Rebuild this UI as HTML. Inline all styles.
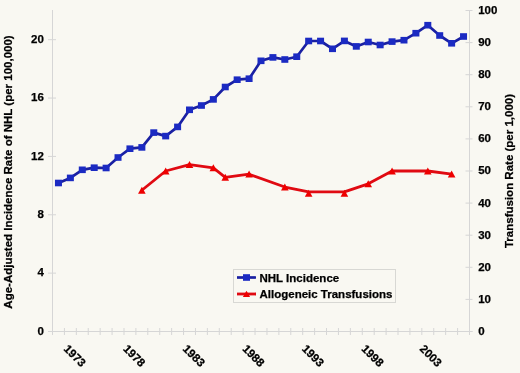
<!DOCTYPE html>
<html><head><meta charset="utf-8"><style>
html,body{margin:0;padding:0;background:#F9F8F2;}
svg{display:block;will-change:transform;}
text{font-family:'Liberation Sans',sans-serif;font-weight:bold;font-size:11.5px;fill:#000;stroke:#000;stroke-width:0.25px;}
</style></head><body>
<svg width="520" height="373" viewBox="0 0 520 373">
<rect width="520" height="373" fill="#F9F8F2"/>
<line x1="52.5" y1="10" x2="52.5" y2="335" stroke="#D6D6D6" stroke-width="1"/>
<line x1="469.5" y1="10.5" x2="469.5" y2="335" stroke="#D6D6D6" stroke-width="1"/>
<line x1="48.5" y1="331.5" x2="472.5" y2="331.5" stroke="#D6D6D6" stroke-width="1"/>
<line x1="48.0" y1="331.50" x2="56.0" y2="331.50" stroke="#D6D6D6" stroke-width="1"/>
<text x="43.8" y="334.70" text-anchor="end">0</text>
<line x1="48.0" y1="273.14" x2="56.0" y2="273.14" stroke="#D6D6D6" stroke-width="1"/>
<text x="43.8" y="276.34" text-anchor="end">4</text>
<line x1="48.0" y1="214.77" x2="56.0" y2="214.77" stroke="#D6D6D6" stroke-width="1"/>
<text x="43.8" y="217.97" text-anchor="end">8</text>
<line x1="48.0" y1="156.41" x2="56.0" y2="156.41" stroke="#D6D6D6" stroke-width="1"/>
<text x="43.8" y="159.61" text-anchor="end">12</text>
<line x1="48.0" y1="98.05" x2="56.0" y2="98.05" stroke="#D6D6D6" stroke-width="1"/>
<text x="43.8" y="101.25" text-anchor="end">16</text>
<line x1="48.0" y1="39.68" x2="56.0" y2="39.68" stroke="#D6D6D6" stroke-width="1"/>
<text x="43.8" y="42.88" text-anchor="end">20</text>
<line x1="465.5" y1="331.50" x2="472.5" y2="331.50" stroke="#D6D6D6" stroke-width="1"/>
<text x="478.2" y="334.90">0</text>
<line x1="465.5" y1="299.40" x2="472.5" y2="299.40" stroke="#D6D6D6" stroke-width="1"/>
<text x="478.2" y="302.80">10</text>
<line x1="465.5" y1="267.30" x2="472.5" y2="267.30" stroke="#D6D6D6" stroke-width="1"/>
<text x="478.2" y="270.70">20</text>
<line x1="465.5" y1="235.20" x2="472.5" y2="235.20" stroke="#D6D6D6" stroke-width="1"/>
<text x="478.2" y="238.60">30</text>
<line x1="465.5" y1="203.10" x2="472.5" y2="203.10" stroke="#D6D6D6" stroke-width="1"/>
<text x="478.2" y="206.50">40</text>
<line x1="465.5" y1="171.00" x2="472.5" y2="171.00" stroke="#D6D6D6" stroke-width="1"/>
<text x="478.2" y="174.40">50</text>
<line x1="465.5" y1="138.90" x2="472.5" y2="138.90" stroke="#D6D6D6" stroke-width="1"/>
<text x="478.2" y="142.30">60</text>
<line x1="465.5" y1="106.80" x2="472.5" y2="106.80" stroke="#D6D6D6" stroke-width="1"/>
<text x="478.2" y="110.20">70</text>
<line x1="465.5" y1="74.70" x2="472.5" y2="74.70" stroke="#D6D6D6" stroke-width="1"/>
<text x="478.2" y="78.10">80</text>
<line x1="465.5" y1="42.60" x2="472.5" y2="42.60" stroke="#D6D6D6" stroke-width="1"/>
<text x="478.2" y="46.00">90</text>
<line x1="465.5" y1="10.50" x2="472.5" y2="10.50" stroke="#D6D6D6" stroke-width="1"/>
<text x="478.2" y="13.90">100</text>
<line x1="52.50" y1="328" x2="52.50" y2="335" stroke="#D6D6D6" stroke-width="1"/>
<line x1="64.41" y1="328" x2="64.41" y2="335" stroke="#D6D6D6" stroke-width="1"/>
<line x1="76.33" y1="328" x2="76.33" y2="335" stroke="#D6D6D6" stroke-width="1"/>
<line x1="88.24" y1="328" x2="88.24" y2="335" stroke="#D6D6D6" stroke-width="1"/>
<line x1="100.16" y1="328" x2="100.16" y2="335" stroke="#D6D6D6" stroke-width="1"/>
<line x1="112.07" y1="328" x2="112.07" y2="335" stroke="#D6D6D6" stroke-width="1"/>
<line x1="123.99" y1="328" x2="123.99" y2="335" stroke="#D6D6D6" stroke-width="1"/>
<line x1="135.90" y1="328" x2="135.90" y2="335" stroke="#D6D6D6" stroke-width="1"/>
<line x1="147.81" y1="328" x2="147.81" y2="335" stroke="#D6D6D6" stroke-width="1"/>
<line x1="159.73" y1="328" x2="159.73" y2="335" stroke="#D6D6D6" stroke-width="1"/>
<line x1="171.64" y1="328" x2="171.64" y2="335" stroke="#D6D6D6" stroke-width="1"/>
<line x1="183.56" y1="328" x2="183.56" y2="335" stroke="#D6D6D6" stroke-width="1"/>
<line x1="195.47" y1="328" x2="195.47" y2="335" stroke="#D6D6D6" stroke-width="1"/>
<line x1="207.39" y1="328" x2="207.39" y2="335" stroke="#D6D6D6" stroke-width="1"/>
<line x1="219.30" y1="328" x2="219.30" y2="335" stroke="#D6D6D6" stroke-width="1"/>
<line x1="231.21" y1="328" x2="231.21" y2="335" stroke="#D6D6D6" stroke-width="1"/>
<line x1="243.13" y1="328" x2="243.13" y2="335" stroke="#D6D6D6" stroke-width="1"/>
<line x1="255.04" y1="328" x2="255.04" y2="335" stroke="#D6D6D6" stroke-width="1"/>
<line x1="266.96" y1="328" x2="266.96" y2="335" stroke="#D6D6D6" stroke-width="1"/>
<line x1="278.87" y1="328" x2="278.87" y2="335" stroke="#D6D6D6" stroke-width="1"/>
<line x1="290.79" y1="328" x2="290.79" y2="335" stroke="#D6D6D6" stroke-width="1"/>
<line x1="302.70" y1="328" x2="302.70" y2="335" stroke="#D6D6D6" stroke-width="1"/>
<line x1="314.61" y1="328" x2="314.61" y2="335" stroke="#D6D6D6" stroke-width="1"/>
<line x1="326.53" y1="328" x2="326.53" y2="335" stroke="#D6D6D6" stroke-width="1"/>
<line x1="338.44" y1="328" x2="338.44" y2="335" stroke="#D6D6D6" stroke-width="1"/>
<line x1="350.36" y1="328" x2="350.36" y2="335" stroke="#D6D6D6" stroke-width="1"/>
<line x1="362.27" y1="328" x2="362.27" y2="335" stroke="#D6D6D6" stroke-width="1"/>
<line x1="374.19" y1="328" x2="374.19" y2="335" stroke="#D6D6D6" stroke-width="1"/>
<line x1="386.10" y1="328" x2="386.10" y2="335" stroke="#D6D6D6" stroke-width="1"/>
<line x1="398.01" y1="328" x2="398.01" y2="335" stroke="#D6D6D6" stroke-width="1"/>
<line x1="409.93" y1="328" x2="409.93" y2="335" stroke="#D6D6D6" stroke-width="1"/>
<line x1="421.84" y1="328" x2="421.84" y2="335" stroke="#D6D6D6" stroke-width="1"/>
<line x1="433.76" y1="328" x2="433.76" y2="335" stroke="#D6D6D6" stroke-width="1"/>
<line x1="445.67" y1="328" x2="445.67" y2="335" stroke="#D6D6D6" stroke-width="1"/>
<line x1="457.59" y1="328" x2="457.59" y2="335" stroke="#D6D6D6" stroke-width="1"/>
<line x1="469.50" y1="328" x2="469.50" y2="335" stroke="#D6D6D6" stroke-width="1"/>
<text transform="translate(62.96,349.5) rotate(45)" x="0" y="0">1973</text>
<text transform="translate(122.53,349.5) rotate(45)" x="0" y="0">1978</text>
<text transform="translate(182.10,349.5) rotate(45)" x="0" y="0">1983</text>
<text transform="translate(241.67,349.5) rotate(45)" x="0" y="0">1988</text>
<text transform="translate(301.24,349.5) rotate(45)" x="0" y="0">1993</text>
<text transform="translate(360.81,349.5) rotate(45)" x="0" y="0">1998</text>
<text transform="translate(418.99,349.5) rotate(45)" x="0" y="0">2003</text>
<polyline points="58.46,183 70.37,177.9 82.29,169.8 94.20,167.7 106.11,168 118.03,157.5 129.94,148.7 141.86,147.4 153.77,132.6 165.69,136.1 177.60,126.9 189.51,109.8 201.43,105.5 213.34,99.4 225.26,87 237.17,79.7 249.09,78.7 261.00,60.8 272.91,57.4 284.83,59.5 296.74,56.7 308.66,41 320.57,41 332.49,48.8 344.40,40.9 356.31,46.4 368.23,42 380.14,45 392.06,41.6 403.97,40.2 415.89,33.2 427.80,25.2 439.71,35.5 451.63,43.3 463.54,36.5" fill="none" stroke="#1A20A2" stroke-width="2.7" stroke-linejoin="round"/>
<rect x="54.96" y="179.70" width="7" height="6.6" fill="#1B2AC2"/>
<rect x="66.87" y="174.60" width="7" height="6.6" fill="#1B2AC2"/>
<rect x="78.79" y="166.50" width="7" height="6.6" fill="#1B2AC2"/>
<rect x="90.70" y="164.40" width="7" height="6.6" fill="#1B2AC2"/>
<rect x="102.61" y="164.70" width="7" height="6.6" fill="#1B2AC2"/>
<rect x="114.53" y="154.20" width="7" height="6.6" fill="#1B2AC2"/>
<rect x="126.44" y="145.40" width="7" height="6.6" fill="#1B2AC2"/>
<rect x="138.36" y="144.10" width="7" height="6.6" fill="#1B2AC2"/>
<rect x="150.27" y="129.30" width="7" height="6.6" fill="#1B2AC2"/>
<rect x="162.19" y="132.80" width="7" height="6.6" fill="#1B2AC2"/>
<rect x="174.10" y="123.60" width="7" height="6.6" fill="#1B2AC2"/>
<rect x="186.01" y="106.50" width="7" height="6.6" fill="#1B2AC2"/>
<rect x="197.93" y="102.20" width="7" height="6.6" fill="#1B2AC2"/>
<rect x="209.84" y="96.10" width="7" height="6.6" fill="#1B2AC2"/>
<rect x="221.76" y="83.70" width="7" height="6.6" fill="#1B2AC2"/>
<rect x="233.67" y="76.40" width="7" height="6.6" fill="#1B2AC2"/>
<rect x="245.59" y="75.40" width="7" height="6.6" fill="#1B2AC2"/>
<rect x="257.50" y="57.50" width="7" height="6.6" fill="#1B2AC2"/>
<rect x="269.41" y="54.10" width="7" height="6.6" fill="#1B2AC2"/>
<rect x="281.33" y="56.20" width="7" height="6.6" fill="#1B2AC2"/>
<rect x="293.24" y="53.40" width="7" height="6.6" fill="#1B2AC2"/>
<rect x="305.16" y="37.70" width="7" height="6.6" fill="#1B2AC2"/>
<rect x="317.07" y="37.70" width="7" height="6.6" fill="#1B2AC2"/>
<rect x="328.99" y="45.50" width="7" height="6.6" fill="#1B2AC2"/>
<rect x="340.90" y="37.60" width="7" height="6.6" fill="#1B2AC2"/>
<rect x="352.81" y="43.10" width="7" height="6.6" fill="#1B2AC2"/>
<rect x="364.73" y="38.70" width="7" height="6.6" fill="#1B2AC2"/>
<rect x="376.64" y="41.70" width="7" height="6.6" fill="#1B2AC2"/>
<rect x="388.56" y="38.30" width="7" height="6.6" fill="#1B2AC2"/>
<rect x="400.47" y="36.90" width="7" height="6.6" fill="#1B2AC2"/>
<rect x="412.39" y="29.90" width="7" height="6.6" fill="#1B2AC2"/>
<rect x="424.30" y="21.90" width="7" height="6.6" fill="#1B2AC2"/>
<rect x="436.21" y="32.20" width="7" height="6.6" fill="#1B2AC2"/>
<rect x="448.13" y="40.00" width="7" height="6.6" fill="#1B2AC2"/>
<rect x="460.04" y="33.20" width="7" height="6.6" fill="#1B2AC2"/>
<polyline points="141.86,190.26 165.69,171.00 189.51,164.58 213.34,167.79 225.26,177.42 249.09,174.21 284.83,187.05 308.66,191.87 344.40,191.87 368.23,183.84 392.06,171.00 427.80,171.00 451.63,174.21" fill="none" stroke="#E00A12" stroke-width="2.8" stroke-linejoin="round"/>
<polygon points="141.86,186.66 145.66,193.66 138.06,193.66" fill="#EE0000"/>
<polygon points="165.69,167.40 169.49,174.40 161.89,174.40" fill="#EE0000"/>
<polygon points="189.51,160.98 193.31,167.98 185.71,167.98" fill="#EE0000"/>
<polygon points="213.34,164.19 217.14,171.19 209.54,171.19" fill="#EE0000"/>
<polygon points="225.26,173.82 229.06,180.82 221.46,180.82" fill="#EE0000"/>
<polygon points="249.09,170.61 252.89,177.61 245.29,177.61" fill="#EE0000"/>
<polygon points="284.83,183.45 288.63,190.45 281.03,190.45" fill="#EE0000"/>
<polygon points="308.66,189.87 312.46,196.87 304.86,196.87" fill="#EE0000"/>
<polygon points="344.40,189.87 348.20,196.87 340.60,196.87" fill="#EE0000"/>
<polygon points="368.23,180.24 372.03,187.24 364.43,187.24" fill="#EE0000"/>
<polygon points="392.06,167.40 395.86,174.40 388.26,174.40" fill="#EE0000"/>
<polygon points="427.80,167.40 431.60,174.40 424.00,174.40" fill="#EE0000"/>
<polygon points="451.63,170.61 455.43,177.61 447.83,177.61" fill="#EE0000"/>
<rect x="233.5" y="269.5" width="162" height="33" fill="none" stroke="#D8D8D4" stroke-width="1"/>
<line x1="237" y1="277.5" x2="256" y2="277.5" stroke="#1A20A2" stroke-width="2.7"/>
<rect x="243" y="274.2" width="7" height="6.6" fill="#1B2AC2"/>
<line x1="237" y1="294" x2="256" y2="294" stroke="#E00A12" stroke-width="2.8"/>
<polygon points="246.5,290.7 250.1,297.1 242.9,297.1" fill="#EE0000"/>
<text x="259.5" y="281.8">NHL Incidence</text>
<text x="259.5" y="298.2">Allogeneic Transfusions</text>
<text transform="translate(12.2,172) rotate(-90)" text-anchor="middle">Age-Adjusted Incidence Rate of NHL (per 100,000)</text>
<text transform="translate(512.8,171) rotate(-90)" text-anchor="middle">Transfusion Rate (per 1,000)</text>
</svg>
</body></html>
